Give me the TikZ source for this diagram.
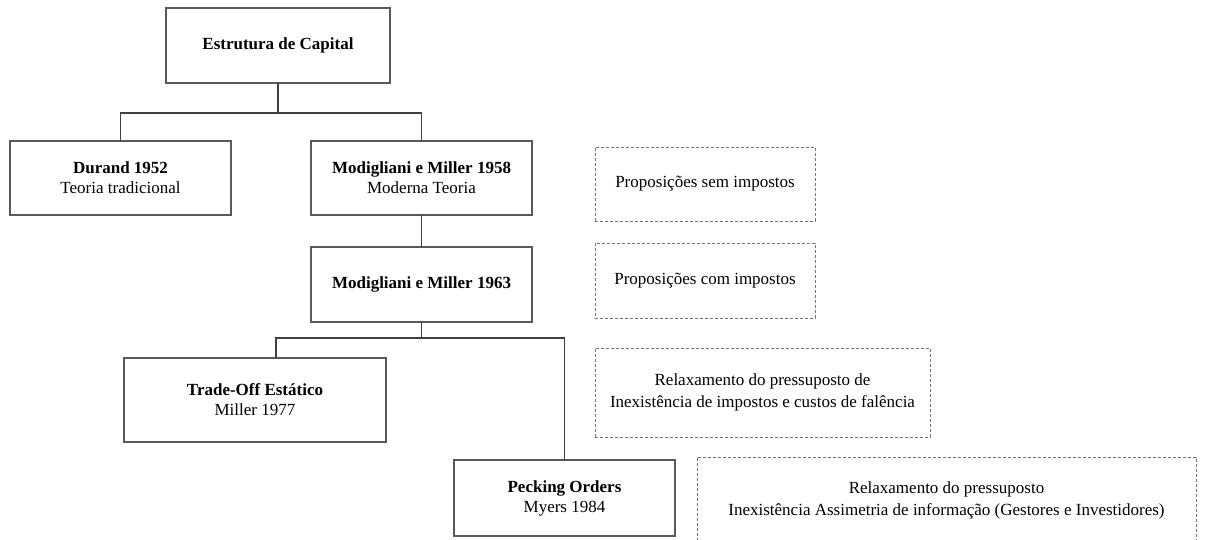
\documentclass[tikz,border=0pt]{standalone}
\usepackage{fontspec}
\setmainfont{Liberation Serif}
\usetikzlibrary{positioning}

\begin{document}
\begin{tikzpicture}[
            x=1pt, y=1pt,
            mybox/.style={
            rectangle,
            draw=black!65,
            line width=1.2pt,
            fill=white,
            align=center,
            inner sep=2pt,
            outer sep=0pt,
            minimum width=221pt,
            minimum height=74pt,
            font=\fontsize{17}{20}\selectfont},
        mynote/.style={
            rectangle,
            draw=black!55,
            dash pattern=on 3pt off 2pt,
            line width=0.9pt,
            align=center,
            inner sep=2pt,
            outer sep=0pt,
            minimum width=220pt,
            minimum height=74pt,
            font=\fontsize{17}{22}\selectfont},
        myline/.style={draw=black!75, line width=1.2pt}
        ]
        \clip (0,0) rectangle (1208,-540);

        \node[mybox, minimum width=224pt, minimum height=75pt] (estrutura) at (278,-45.5) {\textbf{Estrutura de Capital}};
        \node[mybox, below=58pt of estrutura, xshift=-157.5pt] (durand) {\textbf{Durand 1952}\\Teoria tradicional};
        \node[mybox, right=80pt of durand] (mm58) {\textbf{Modigliani e Miller 1958}\\Moderna Teoria};
        \node[mybox, below=32pt of mm58, minimum height=75pt] (mm63) {\textbf{Modigliani e Miller 1963}};
        \node[mybox, below=36pt of mm63, xshift=-166.5pt, minimum width=262pt, minimum height=84pt] (tradeoff) {\textbf{Trade-Off Estático}\\Miller 1977};
        \node[mybox, below right=18pt and 68pt of tradeoff, minimum height=76pt] (pecking) {\textbf{Pecking Orders}\\Myers 1984};

        % notes on the right
        \node[mynote, right=63pt of mm58, yshift=-6pt] (semimp) {Proposições sem impostos};
        \node[mynote, below=22pt of semimp, minimum height=75pt] (comimp) {Proposições com impostos};
        \node[mynote, below=30pt of comimp.south west, anchor=north west, minimum width=335pt, minimum height=89pt] (relax1) {Relaxamento do pressuposto de\\Inexistência de impostos e custos de falência};
        \node[mynote, right=22pt of pecking.north east, anchor=north west, yshift=3pt, minimum width=499pt, minimum height=86pt] (relax2) {Relaxamento do pressuposto\\Inexistência Assimetria de informação (Gestores e Investidores)};

        \draw[myline] (estrutura.south) -- ++(0,-30) coordinate (split1);
        \draw[myline] (durand.north) |- (split1) -| (mm58.north);
        \draw[myline] (mm58) -- (mm63);
        \draw[myline] (mm63.south) -- ++(0,-16) coordinate (split2);
        \draw[myline] ([xshift=21pt]tradeoff.north) |- (split2) -| (pecking.north);
        \end{tikzpicture}
\end{document}
